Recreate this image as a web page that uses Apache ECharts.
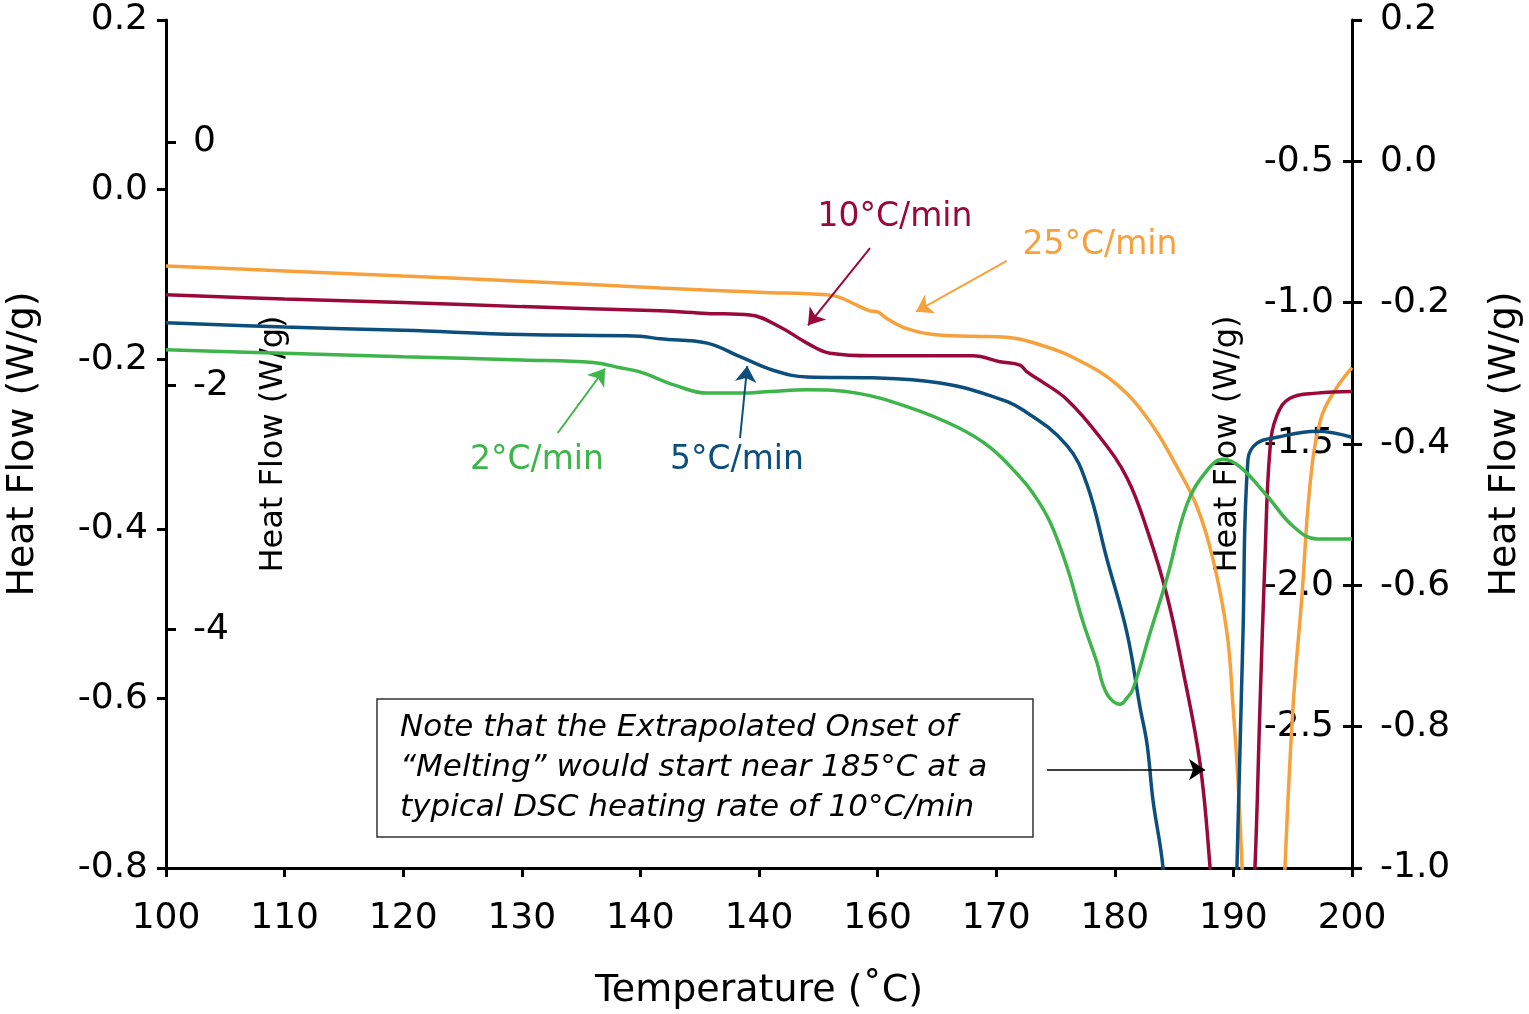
<!DOCTYPE html>
<html>
<head>
<meta charset="utf-8">
<script src="https://cdn.jsdelivr.net/npm/echarts@6/dist/echarts.min.js"></script>
<style>
html,body{margin:0;padding:0;background:#fff;}
#chart{width:1529px;height:1014px;}
</style>
</head>
<body>
<div id="chart"></div>
<script>
// ---- Data ----
const xTickLabels = ['100','110','120','130','140','140','160','170','180','190','200'];
const innerLeftTicks = [0, -2, -4];
const innerRightTicks = [-0.5, -1.0, -1.5, -2.0, -2.5];

const temp25 = [100,110,120,130,141.65,150,155.7,156.8,158.2,159.36,159.98,160.77,162.45,164.7,168.07,170.89,173.7,176.5,180.19,182.97,185.24,186.93,188.28,189.46,189.97,190.39,190.73,191.2,192.6,194.0,194.35,195.03,195.78,196.46,197.3,198.41,200];
const flow25 = [-0.090,-0.096,-0.102,-0.108,-0.116,-0.121,-0.124,-0.127,-0.136,-0.143,-0.144,-0.152,-0.164,-0.171,-0.173,-0.174,-0.183,-0.198,-0.230,-0.274,-0.327,-0.374,-0.436,-0.523,-0.610,-0.697,-0.799,-0.95,-1.3,-0.95,-0.799,-0.610,-0.479,-0.348,-0.274,-0.240,-0.210];

const temp10 = [100,110,120,130,141.65,145.62,149.24,151.77,154.05,155.99,159.61,165,168.04,170.32,172.0,172.6,173.7,176.0,178.75,181.03,182.72,184.4,185.75,187.18,188.03,188.5,190.5,191.4,191.82,192.24,192.66,193.09,193.68,194.77,197.05,200];
const flow10 = [-0.124,-0.129,-0.133,-0.138,-0.143,-0.146,-0.148,-0.162,-0.181,-0.193,-0.196,-0.196,-0.196,-0.203,-0.207,-0.215,-0.225,-0.248,-0.292,-0.340,-0.401,-0.479,-0.567,-0.676,-0.799,-0.9,-1.4,-0.9,-0.799,-0.610,-0.436,-0.305,-0.266,-0.246,-0.240,-0.238];

const temp5 = [100,110,120,130,139.97,141.65,145.62,148.4,151.18,154.05,159.61,165.26,169.48,172.26,175.97,177.66,179.34,181.03,182.12,182.72,183.22,184.06,184.5,187.5,190.0,190.3,190.81,191.23,191.99,193.68,197.05,200];
const flow5 = [-0.157,-0.162,-0.166,-0.171,-0.173,-0.176,-0.181,-0.197,-0.213,-0.221,-0.222,-0.228,-0.243,-0.260,-0.302,-0.348,-0.436,-0.523,-0.610,-0.654,-0.720,-0.799,-0.9,-1.4,-0.95,-0.799,-0.523,-0.318,-0.299,-0.292,-0.285,-0.292];

const temp2 = [100,110,120,130,136.0,138.28,139.97,141.65,142.75,145.62,148.4,151.0,154.05,158.26,162.48,166.7,169.48,172.01,173.1,174.54,175.97,177.32,178.5,179.0,179.6,180.44,181.0,181.53,182.97,184.4,186.09,187.78,189.12,190.56,192.83,195.03,197.05,200];
const flow2 = [-0.189,-0.193,-0.197,-0.201,-0.204,-0.210,-0.215,-0.224,-0.230,-0.240,-0.240,-0.238,-0.236,-0.240,-0.256,-0.280,-0.304,-0.339,-0.358,-0.392,-0.445,-0.510,-0.558,-0.584,-0.600,-0.607,-0.600,-0.589,-0.523,-0.458,-0.371,-0.331,-0.318,-0.327,-0.361,-0.397,-0.412,-0.412];

// annotation arrows in data coordinates [tailT, tailV, headT, headV]
const arrow10 = [159.36,-0.069,154.13,-0.160];
const arrow25 = [170.89,-0.084,163.24,-0.144];
const arrow2  = [133.03,-0.287,137.02,-0.211];
const arrow5  = [148.40,-0.293,149.01,-0.208];
const arrowNote = [174.28,-0.684,187.61,-0.684];

// ---- Styling ----
const FONT = 'DejaVu Sans';
const C25 = '#F7A13C', C10 = '#9A0A38', C5 = '#0C4F7D', C2 = '#3DB54A';
const zip = (a,b) => a.map((v,i) => [v, b[i]]);

function arrowLine(a, color, w) {
  return {
    silent: true, animation: false,
    symbol: ['none', 'arrow'], symbolSize: 16,
    label: {show: false},
    lineStyle: {color: color, width: w, type: 'solid'},
    emphasis: {disabled: true},
    data: [[{coord: [a[0], a[1]]}, {coord: [a[2], a[3]]}]]
  };
}

function lineSeries(name, t, v, color, arrow) {
  return {
    name: name, type: 'line', xAxisIndex: 0, yAxisIndex: 0,
    data: zip(t, v), showSymbol: false, symbol: 'none',
    smooth: 0.4, clip: true,
    lineStyle: {color: color, width: 3.5},
    emphasis: {disabled: true},
    markLine: arrowLine(arrow, color, 2)
  };
}

const axisLineStyle = {color: '#000', width: 3};
const chart = echarts.init(document.getElementById('chart'));
chart.setOption({
  animation: false,
  backgroundColor: '#fff',
  grid: {left: 166, right: 177, top: 20, bottom: 146, containLabel: false, outerBoundsMode: 'none'},
  xAxis: {
    type: 'value', min: 100, max: 200, interval: 10,
    axisLine: {show: true, onZero: false, lineStyle: axisLineStyle},
    axisTick: {show: true, length: 9, lineStyle: {color: '#000', width: 3}},
    axisLabel: {fontSize: 36, color: '#000', fontFamily: FONT, margin: 33,
      formatter: (v) => xTickLabels[Math.round((v - 100) / 10)]},
    splitLine: {show: false},
    name: 'Temperature (˚C)', nameLocation: 'middle', nameGap: 104, nameMoveOverlap: false,
    nameTextStyle: {fontSize: 38, color: '#000', fontFamily: FONT}
  },
  yAxis: [
    {
      type: 'value', position: 'left', min: -0.8, max: 0.2, interval: 0.2,
      axisLine: {show: true, onZero: false, lineStyle: axisLineStyle},
      axisTick: {show: true, length: 9, lineStyle: {color: '#000', width: 3}},
      axisLabel: {fontSize: 36, color: '#000', fontFamily: FONT, margin: 18,
        formatter: (v) => v.toFixed(1)},
      splitLine: {show: false},
      name: 'Heat Flow (W/g)', nameLocation: 'middle', nameGap: 124, nameRotate: 90, nameMoveOverlap: false,
      nameTextStyle: {fontSize: 38, color: '#000', fontFamily: FONT}
    },
    {
      type: 'value', position: 'left', min: -5.96, max: 1.0,
      axisLine: {show: false},
      axisTick: {show: true, inside: true, length: 10, customValues: innerLeftTicks,
        lineStyle: {color: '#000', width: 3}},
      axisLabel: {inside: true, fontSize: 36, color: '#000', fontFamily: FONT, margin: 27,
        customValues: innerLeftTicks, formatter: (v) => String(v)},
      splitLine: {show: false},
      name: 'Heat Flow (W/g)', nameLocation: 'middle', nameGap: -124, nameRotate: 90, nameMoveOverlap: false,
      nameTextStyle: {fontSize: 32, color: '#000', fontFamily: FONT}
    },
    {
      type: 'value', position: 'right', min: -1.0, max: 0.2, interval: 0.2,
      axisLine: {show: true, onZero: false, lineStyle: axisLineStyle},
      axisTick: {show: true, length: 10, lineStyle: {color: '#000', width: 3}},
      axisLabel: {fontSize: 36, color: '#000', fontFamily: FONT, margin: 28,
        formatter: (v) => v.toFixed(1)},
      splitLine: {show: false},
      name: 'Heat Flow (W/g)', nameLocation: 'middle', nameGap: 134, nameRotate: 90, nameMoveOverlap: false,
      nameTextStyle: {fontSize: 38, color: '#000', fontFamily: FONT}
    },
    {
      type: 'value', position: 'right', min: -3.0, max: 0.0,
      axisLine: {show: false},
      axisTick: {show: true, inside: true, length: 9, customValues: innerRightTicks,
        lineStyle: {color: '#000', width: 3}},
      axisLabel: {inside: true, fontSize: 36, color: '#000', fontFamily: FONT, margin: 18,
        customValues: innerRightTicks, formatter: (v) => v.toFixed(1)},
      splitLine: {show: false},
      name: 'Heat Flow (W/g)', nameLocation: 'middle', nameGap: -140, nameRotate: 90, nameMoveOverlap: false,
      nameTextStyle: {fontSize: 32, color: '#000', fontFamily: FONT}
    }
  ],
  series: [
    lineSeries('25°C/min', temp25, flow25, C25, arrow25),
    lineSeries('10°C/min', temp10, flow10, C10, arrow10),
    lineSeries('5°C/min', temp5, flow5, C5, arrow5),
    lineSeries('2°C/min', temp2, flow2, C2, arrow2),
    {
      name: 'note', type: 'line', data: [], xAxisIndex: 0, yAxisIndex: 0,
      markLine: arrowLine(arrowNote, '#000', 1.5)
    }
  ],
  graphic: [
    {type: 'text', x: 895, y: 217, z: 100,
      style: {text: '10°C/min', fill: C10, font: '33px "DejaVu Sans"', textAlign: 'center', textVerticalAlign: 'middle'}},
    {type: 'text', x: 1100, y: 245, z: 100,
      style: {text: '25°C/min', fill: C25, font: '33px "DejaVu Sans"', textAlign: 'center', textVerticalAlign: 'middle'}},
    {type: 'text', x: 537, y: 460, z: 100,
      style: {text: '2°C/min', fill: C2, font: '33px "DejaVu Sans"', textAlign: 'center', textVerticalAlign: 'middle'}},
    {type: 'text', x: 737, y: 460, z: 100,
      style: {text: '5°C/min', fill: C5, font: '33px "DejaVu Sans"', textAlign: 'center', textVerticalAlign: 'middle'}},
    {type: 'rect', z: 100, shape: {x: 377, y: 699, width: 656, height: 138},
      style: {fill: '#fff', stroke: '#333', lineWidth: 1.5}},
    {type: 'text', z: 101, x: 400, y: 708,
      style: {text: 'Note that the Extrapolated Onset of\n“Melting” would start near 185°C at a\ntypical DSC heating rate of 10°C/min',
        fill: '#000', font: 'italic 31px "DejaVu Sans"', lineHeight: 40, textAlign: 'left', textVerticalAlign: 'top'}}
  ]
});
</script>
</body>
</html>
